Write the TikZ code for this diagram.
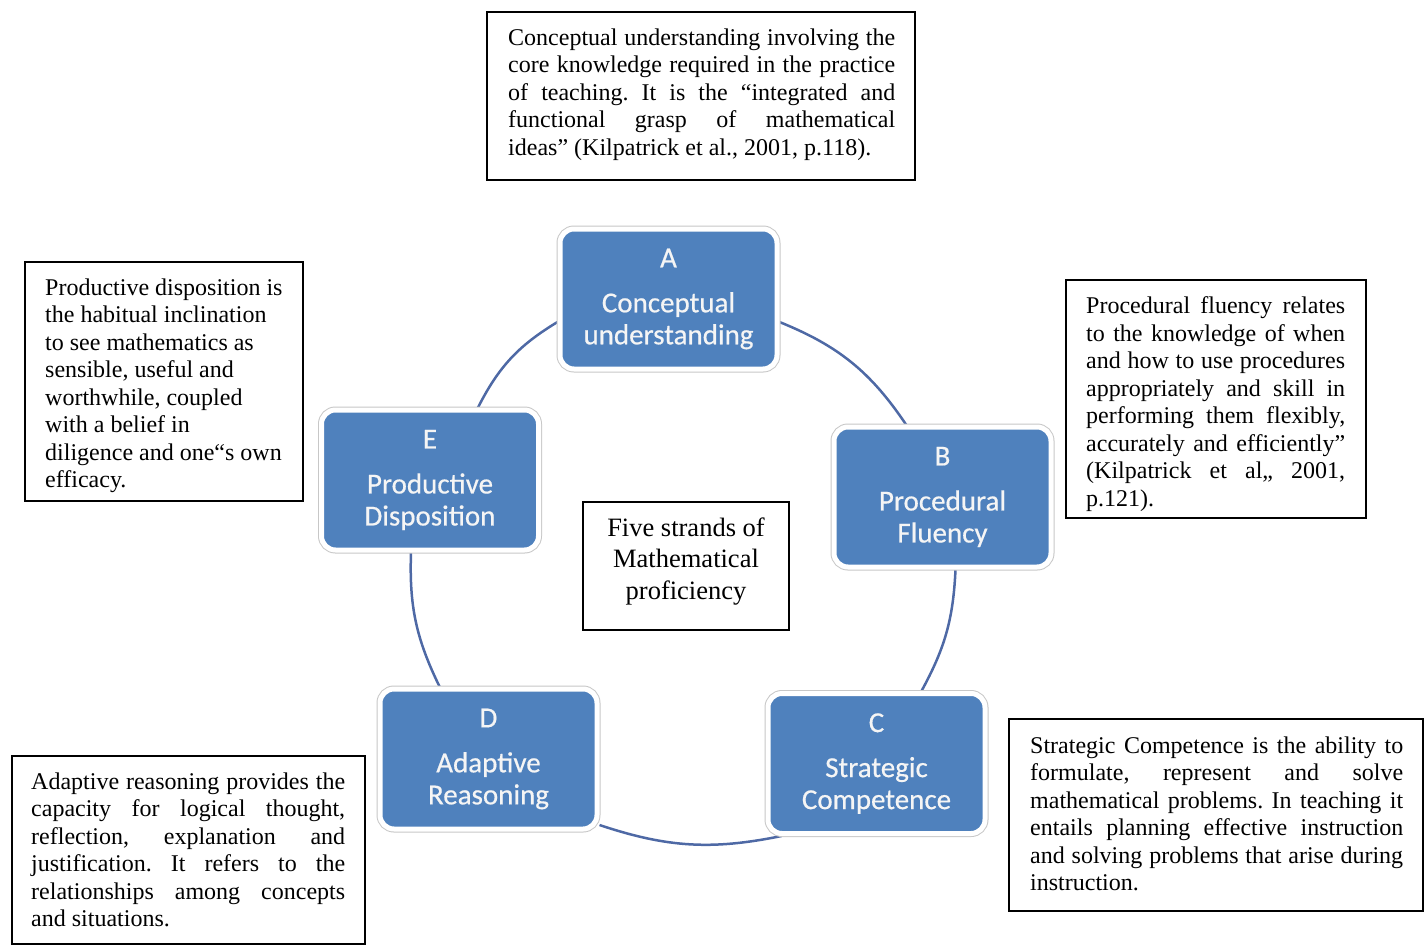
\documentclass[tikz,border=0pt]{standalone}
\usepackage{fontspec}
\usetikzlibrary{backgrounds}
\setmainfont{Liberation Serif}
\newfontfamily\carlito{Carlito}[FakeBold=0.5]
\definecolor{strandblue}{RGB}{79,129,189}
\definecolor{ringblue}{RGB}{78,105,165}
\definecolor{strandtext}{RGB}{245,245,245}
\newcommand{\jl}[2]{\makebox[#1][s]{#2}}
\frenchspacing
\begin{document}
\begin{tikzpicture}[x=1pt,y=-1pt,
  strand/.style={rounded corners=14pt, minimum width=217pt, minimum height=140pt,
    inner sep=0pt, fill=strandblue, draw=white, line width=5pt,
    preaction={draw=black!22, line width=7pt}, text=strandtext,
    font=\carlito\fontsize{29}{32}\selectfont, align=center},
  ringarc/.style={draw=ringblue, line width=2.5pt},
  frame/.style={draw=black, line width=1.5pt, inner sep=0pt, fill=white},
  desc/.style={inner sep=0pt, anchor=north west, align=left,
    font=\fontsize{24}{27.5}\selectfont},
]
\useasboundingbox (0,0) rectangle (1425,946);

% strands
\node[strand] (A) at (668.5,299) {A\\[13pt]Conceptual\\understanding};
\node[strand] (B) at (942.5,497) {B\\[13pt]Procedural\\Fluency};
\node[strand] (C) at (876.5,763.5) {C\\[13pt]Strategic\\Competence};
\node[strand] (D) at (488.5,759) {D\\[13pt]Adaptive\\Reasoning};
\node[strand] (E) at (430,480) {E\\[13pt]Productive\\Disposition};

% cycle arcs (clockwise), behind the strands
\begin{pgfonlayer}{background}
\draw[ringarc] ([yshift=-23pt]A.east) to[bend left=17] ([xshift=-36.5pt]B.north);
\draw[ringarc] ([xshift=13pt]B.south) to[bend left=13] ([xshift=45pt]C.north);
\draw[ringarc] ([xshift=-95pt]C.south) to[bend left=15] ([yshift=-66pt]D.east);
\draw[ringarc] ([xshift=-49pt]D.north) to[bend left=14] ([xshift=-19pt]E.south);
\draw[ringarc] ([xshift=48pt]E.north) to[bend left=16] ([yshift=-23pt]A.west);
\end{pgfonlayer}

% centre
\node[frame, minimum width=206pt, minimum height=128pt] (fc) at (686,566) {};
\node[inner sep=0pt, anchor=north, align=center, font=\fontsize{26.5}{31.5}\selectfont] (tc) at (686,517.5)
  {Five strands of\\Mathematical\\proficiency};

% top
\node[frame, minimum width=428pt, minimum height=168pt] (ftop) at (701,96) {};
\node[desc] (ttop) at (508,28.5) {%
\jl{387pt}{Conceptual understanding involving the}\\
\jl{387pt}{core knowledge required in the practice}\\
\jl{387pt}{of teaching. It is the “integrated and}\\
\jl{387pt}{functional grasp of mathematical}\\
ideas” (Kilpatrick et al., 2001, p.118).};

% left (E)
\node[frame, minimum width=278pt, minimum height=239pt] (fleft) at (164,381.5) {};
\node[desc] (tleft) at (45,278.5) {%
Productive disposition is\\
the habitual inclination\\
to see mathematics as\\
sensible, useful and\\
worthwhile, coupled\\
with a belief in\\
diligence and one“s own\\
efficacy.};

% right (B)
\node[frame, minimum width=300pt, minimum height=238pt] (fright) at (1216,399) {};
\node[desc] (tright) at (1086,296.5) {%
\jl{259pt}{Procedural fluency relates}\\
\jl{259pt}{to the knowledge of when}\\
\jl{259pt}{and how to use procedures}\\
\jl{259pt}{appropriately and skill in}\\
\jl{259pt}{performing them flexibly,}\\
\jl{259pt}{accurately and efficiently”}\\
\jl{259pt}{(Kilpatrick et al,, 2001,}\\
p.121).};

% bottom left (D)
\node[frame, minimum width=353pt, minimum height=188pt] (fbl) at (188.5,850) {};
\node[desc] (tbl) at (31,772.5) {%
\jl{314pt}{Adaptive reasoning provides the}\\
\jl{314pt}{capacity for logical thought,}\\
\jl{314pt}{reflection, explanation and}\\
\jl{314pt}{justification. It refers to the}\\
\jl{314pt}{relationships among concepts}\\
and situations.};

% bottom right (C)
\node[frame, minimum width=414pt, minimum height=192pt] (fbr) at (1216,815) {};
\node[desc] (tbr) at (1030,736.5) {%
\jl{373pt}{Strategic Competence is the ability to}\\
\jl{373pt}{formulate, represent and solve}\\
\jl{373pt}{mathematical problems. In teaching it}\\
\jl{373pt}{entails planning effective instruction}\\
\jl{373pt}{and solving problems that arise during}\\
instruction.};
\end{tikzpicture}
\end{document}
